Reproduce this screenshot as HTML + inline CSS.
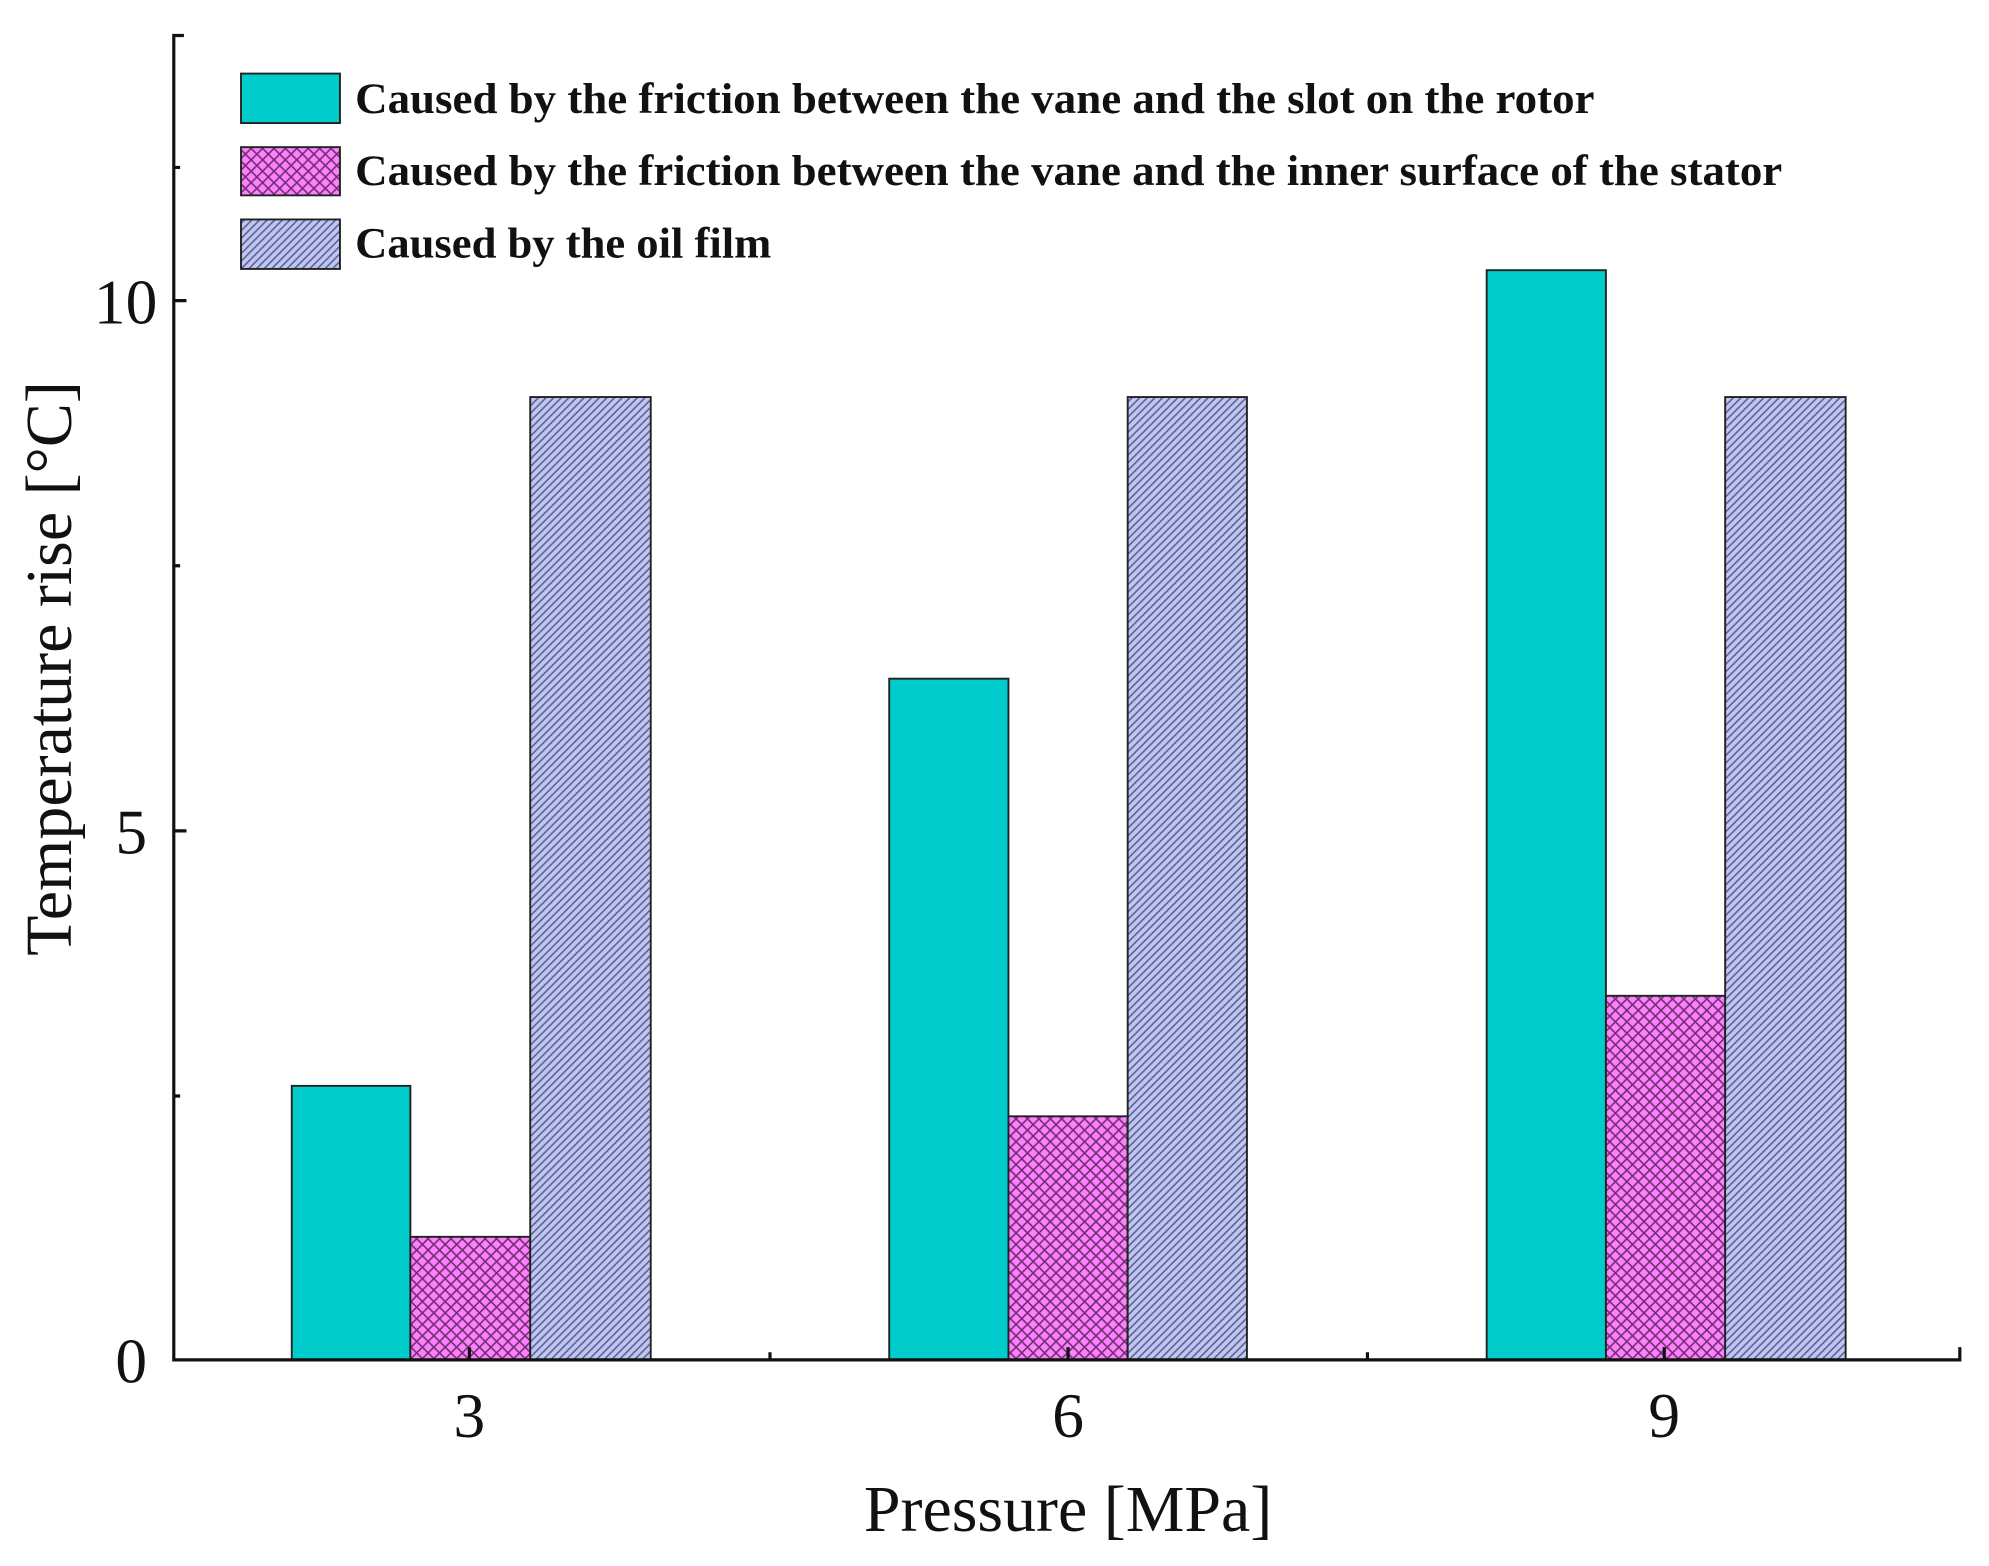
<!DOCTYPE html>
<html><head><meta charset="utf-8"><style>html,body{margin:0;padding:0;background:#fff}svg{display:block}</style></head>
<body>
<svg width="1989" height="1566" viewBox="0 0 1568 1234.5" preserveAspectRatio="none" xmlns="http://www.w3.org/2000/svg">
<defs>
<pattern id="pk" width="9" height="9" patternUnits="userSpaceOnUse">
<rect width="9" height="9" fill="#ff80ff"/>
<path d="M0,0L9,9M9,0L0,9" stroke="#703070" stroke-width="1.3"/>
</pattern>
<pattern id="bl" width="6" height="6" patternUnits="userSpaceOnUse">
<rect width="6" height="6" fill="#c0c6f4"/>
<path d="M-1,7L7,-1M-1,1L1,-1M5,7L7,5" stroke="#5a5f8a" stroke-width="1.2"/>
</pattern>
</defs>
<g font-family="Liberation Serif, serif" fill="#111">
<g stroke="#222" stroke-width="1.5">
<rect x="230" y="856" width="93.5" height="216" fill="#00cccc"/>
<rect x="323.5" y="975" width="94.5" height="97" fill="url(#pk)"/>
<rect x="418" y="313" width="95" height="759" fill="url(#bl)"/>
<rect x="701" y="535" width="94" height="537" fill="#00cccc"/>
<rect x="795" y="880" width="94" height="192" fill="url(#pk)"/>
<rect x="889" y="313" width="94" height="759" fill="url(#bl)"/>
<rect x="1172" y="213" width="94" height="859" fill="#00cccc"/>
<rect x="1266" y="785" width="94" height="287" fill="url(#pk)"/>
<rect x="1360" y="313" width="95" height="759" fill="url(#bl)"/>
</g>
<g stroke="#111" stroke-width="2.5" fill="none">
<path d="M145,28H137V1072H1545V1062"/>
<path d="M137,237H147M137,655H147M137,446H142M137,864H142M137,132H142"/>
<path d="M370,1072V1062M842,1072V1062M1312,1072V1062M607,1072V1066M1078,1072V1066"/>
</g>
<g font-size="50" text-anchor="end">
<text x="124" y="255">10</text>
<text x="116" y="673">5</text>
<text x="116" y="1090">0</text>
</g>
<g font-size="50" text-anchor="middle">
<text x="370" y="1133">3</text>
<text x="842" y="1133">6</text>
<text x="1312" y="1133">9</text>
<text x="842" y="1207" font-size="52">Pressure [MPa]</text>
<text transform="translate(56,527) rotate(-90)" font-size="52">Temperature rise [°C]</text>
</g>
<g stroke="#222" stroke-width="1.5">
<rect x="190" y="58" width="78" height="39" fill="#00cccc"/>
<rect x="190" y="116" width="78" height="38" fill="url(#pk)"/>
<rect x="190" y="173" width="78" height="39" fill="url(#bl)"/>
</g>
<g font-size="34" font-weight="bold">
<text x="280" y="89" textLength="977" lengthAdjust="spacingAndGlyphs">Caused by the friction between the vane and the slot on the rotor</text>
<text x="280" y="146" textLength="1125" lengthAdjust="spacingAndGlyphs">Caused by the friction between the vane and the inner surface of the stator</text>
<text x="280" y="203" textLength="328" lengthAdjust="spacingAndGlyphs">Caused by the oil film</text>
</g>
</g>
</svg>
</body></html>
